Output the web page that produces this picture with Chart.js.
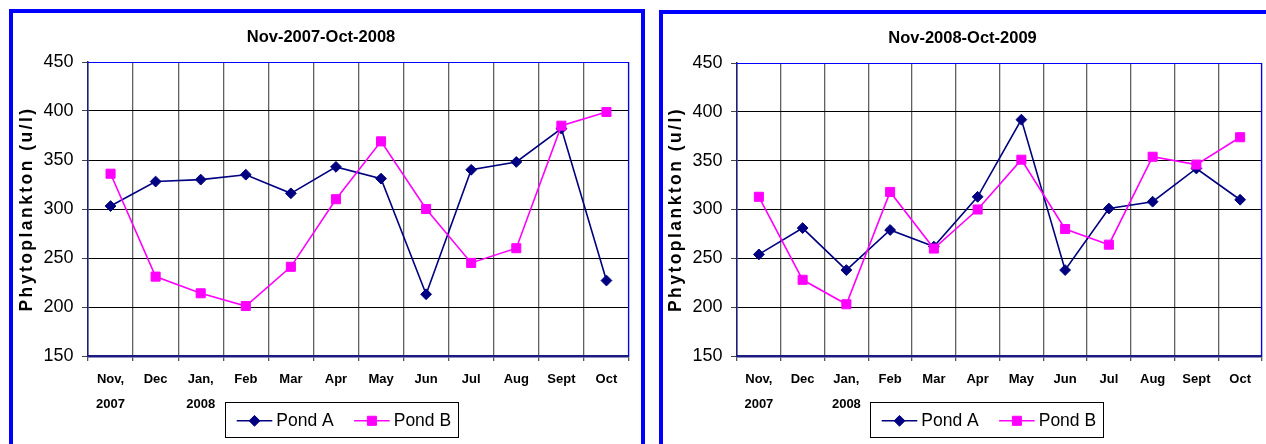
<!DOCTYPE html>
<html>
<head>
<meta charset="utf-8">
<script src="https://cdn.jsdelivr.net/npm/chart.js@4.4.1/dist/chart.umd.min.js"></script>
<style>
  html, body { margin: 0; padding: 0; background: #fff; width: 1266px; height: 444px; overflow: hidden; position: relative; }
  .panel { position: absolute; border: 4px solid #0000ff; box-sizing: border-box; height: 520px; }
  #p1 { left: 9px; top: 9px; width: 636px; }
  #p2 { left: 659px; top: 10px; width: 700px; }
  canvas { position: absolute; }
  #c1 { left: 13px; top: 13px; }
  #c2 { left: 663px; top: 14px; }
</style>
</head>
<body>
<div class="panel" id="p1"></div>
<div class="panel" id="p2"></div>
<canvas id="c1" width="628" height="431"></canvas>
<canvas id="c2" width="611" height="430"></canvas>
<script>
// Monthly phytoplankton counts (u/l) for the two ponds
const months = [['Nov,', '2007'], 'Dec', ['Jan,', '2008'], 'Feb', 'Mar', 'Apr', 'May', 'Jun', 'Jul', 'Aug', 'Sept', 'Oct'];
const yTicks = [150, 200, 250, 300, 350, 400, 450];

const title1 = 'Nov-2007-Oct-2008';
const pondA1 = [303, 328, 330, 335, 316, 343, 331, 213, 340, 348, 382, 227];
const pondB1 = [336, 231, 214, 201, 241, 310, 369, 300, 245, 260, 385, 399];

const title2 = 'Nov-2008-Oct-2009';
const pondA2 = [254, 281, 238, 279, 262, 313, 392, 238, 301, 308, 342, 310];
const pondB2 = [313, 228, 203, 318, 260, 300, 351, 280, 264, 354, 346, 374];

const seriesNames = ['Pond A', 'Pond B'];
const yTitle = 'Phytoplankton (u/l)';

const FONT = '"Liberation Sans", Arial, sans-serif';
const NAVY = '#000080';
const MAGENTA = '#ff00ff';

// marker used both on the lines and in the legend
function drawMarker(ctx, style, r, x, y, color) {
  ctx.save();
  ctx.fillStyle = color;
  ctx.strokeStyle = color;
  ctx.lineWidth = 1;
  ctx.beginPath();
  if (style === 'rectRot') {
    ctx.moveTo(x, y - r); ctx.lineTo(x + r, y); ctx.lineTo(x, y + r); ctx.lineTo(x - r, y);
  } else {
    const h = r * Math.SQRT1_2;
    ctx.rect(x - h, y - h, 2 * h, 2 * h);
  }
  ctx.closePath();
  ctx.fill();
  ctx.stroke();
  ctx.restore();
}

const framePlugin = {
  id: 'frame',
  beforeDatasetsDraw(chart) {
    const { ctx, chartArea: a } = chart;
    ctx.save();
    ctx.strokeStyle = '#0000ff';
    ctx.lineWidth = 1.2;
    ctx.beginPath();
    ctx.moveTo(a.left, a.top + 0.5);
    ctx.lineTo(a.right - 0.5, a.top + 0.5);
    ctx.lineTo(a.right - 0.5, a.bottom);
    ctx.stroke();
    ctx.restore();
  },
  afterDraw(chart, args, opts) {
    const { ctx, chartArea: a } = chart;
    // vertical axis title, spaced out
    ctx.save();
    ctx.font = 'bold 17.5px ' + FONT;
    ctx.letterSpacing = '2.45px';
    ctx.fillStyle = '#000';
    ctx.translate(a.left - 56.3, (a.top + a.bottom) / 2);
    ctx.rotate(-Math.PI / 2);
    ctx.textAlign = 'center';
    ctx.textBaseline = 'alphabetic';
    ctx.fillText(yTitle, 0, 0);
    ctx.restore();

    // boxed legend under the axis
    ctx.save();
    ctx.font = '17.5px ' + FONT;
    const ds = chart.data.datasets;
    const x0 = a.left + opts.legendDx;
    const y0 = a.bottom + 46.3;
    const h = 35.4;
    let w = 11.7;
    ds.forEach((d, i) => {
      w += 35.6 + 4 + ctx.measureText(d.label).width + (i < ds.length - 1 ? 20.4 : 7);
    });
    ctx.fillStyle = '#fff';
    ctx.fillRect(x0, y0, w, h);
    ctx.strokeStyle = '#000';
    ctx.lineWidth = 1;
    ctx.strokeRect(Math.round(x0) + 0.5, Math.round(y0) + 0.5, Math.round(w), Math.round(h));
    let x = x0 + 11.7;
    ds.forEach((d, i) => {
      const ly = y0 + 18.5;
      ctx.strokeStyle = d.borderColor;
      ctx.lineWidth = 1.5;
      ctx.beginPath();
      ctx.moveTo(x, ly);
      ctx.lineTo(x + 35.6, ly);
      ctx.stroke();
      drawMarker(ctx, d.pointStyle, d.pointRadius, x + 17.8, ly, d.borderColor);
      x += 35.6 + 4;
      ctx.fillStyle = '#000';
      ctx.textAlign = 'left';
      ctx.textBaseline = 'alphabetic';
      ctx.fillText(d.label, x, y0 + 23.4);
      x += ctx.measureText(d.label).width + 20.4;
    });
    ctx.restore();
  }
};

function makeChart(id, title, a, b, yAxisWidth, legendDx) {
  return new Chart(document.getElementById(id), {
    type: 'line',
    data: {
      labels: months,
      datasets: [
        {
          label: seriesNames[0], data: a, order: 1,
          borderColor: NAVY, backgroundColor: NAVY, borderWidth: 1.6,
          pointStyle: 'rectRot', pointRadius: 5.4, pointBorderWidth: 1,
          pointBackgroundColor: NAVY, pointBorderColor: NAVY, tension: 0
        },
        {
          label: seriesNames[1], data: b, order: 0,
          borderColor: MAGENTA, backgroundColor: MAGENTA, borderWidth: 1.6,
          pointStyle: 'rect', pointRadius: 6.4, pointBorderWidth: 1,
          pointBackgroundColor: MAGENTA, pointBorderColor: MAGENTA, tension: 0
        }
      ]
    },
    options: {
      responsive: false,
      animation: false,
      events: [],
      layout: { padding: { top: 0, left: 0, right: 12, bottom: 0 } },
      plugins: {
        legend: { display: false },
        tooltip: { enabled: false },
        title: {
          display: true, text: title, color: '#000',
          font: { family: FONT, size: 16.5, weight: 'bold', lineHeight: 1.2 },
          padding: { top: 14.2, bottom: 15 }
        },
        frame: { legendDx: legendDx }
      },
      scales: {
        x: {
          type: 'category',
          offset: true,
          grid: {
            offset: true, color: 'rgba(0,0,0,0.62)', lineWidth: 1.3,
            drawTicks: true, tickLength: 5, tickColor: '#555'
          },
          border: { display: true, color: '#1c1c80', width: 2.5 },
          ticks: {
            autoSkip: false, maxRotation: 0, minRotation: 0, padding: 6,
            color: '#000',
            font: { family: FONT, size: 13, weight: 'bold', lineHeight: 25 / 13 }
          },
          afterFit(scale) { scale.height = 88; }
        },
        y: {
          min: 150, max: 450,
          afterBuildTicks(scale) { scale.ticks = yTicks.map(v => ({ value: v })); },
          grid: {
            color: '#000', lineWidth: 1,
            drawTicks: true, tickLength: 6, tickColor: '#444'
          },
          border: { display: true, color: '#1c1c80', width: 1.5 },
          ticks: {
            padding: 8.5, color: '#000',
            font: { family: FONT, size: 18 }
          },
          afterFit(scale) { scale.width = yAxisWidth; }
        }
      }
    },
    plugins: [framePlugin]
  });
}

makeChart('c1', title1, pondA1, pondB1, 75, 137);
makeChart('c2', title2, pondA2, pondB2, 74, 133);
</script>
</body>
</html>
